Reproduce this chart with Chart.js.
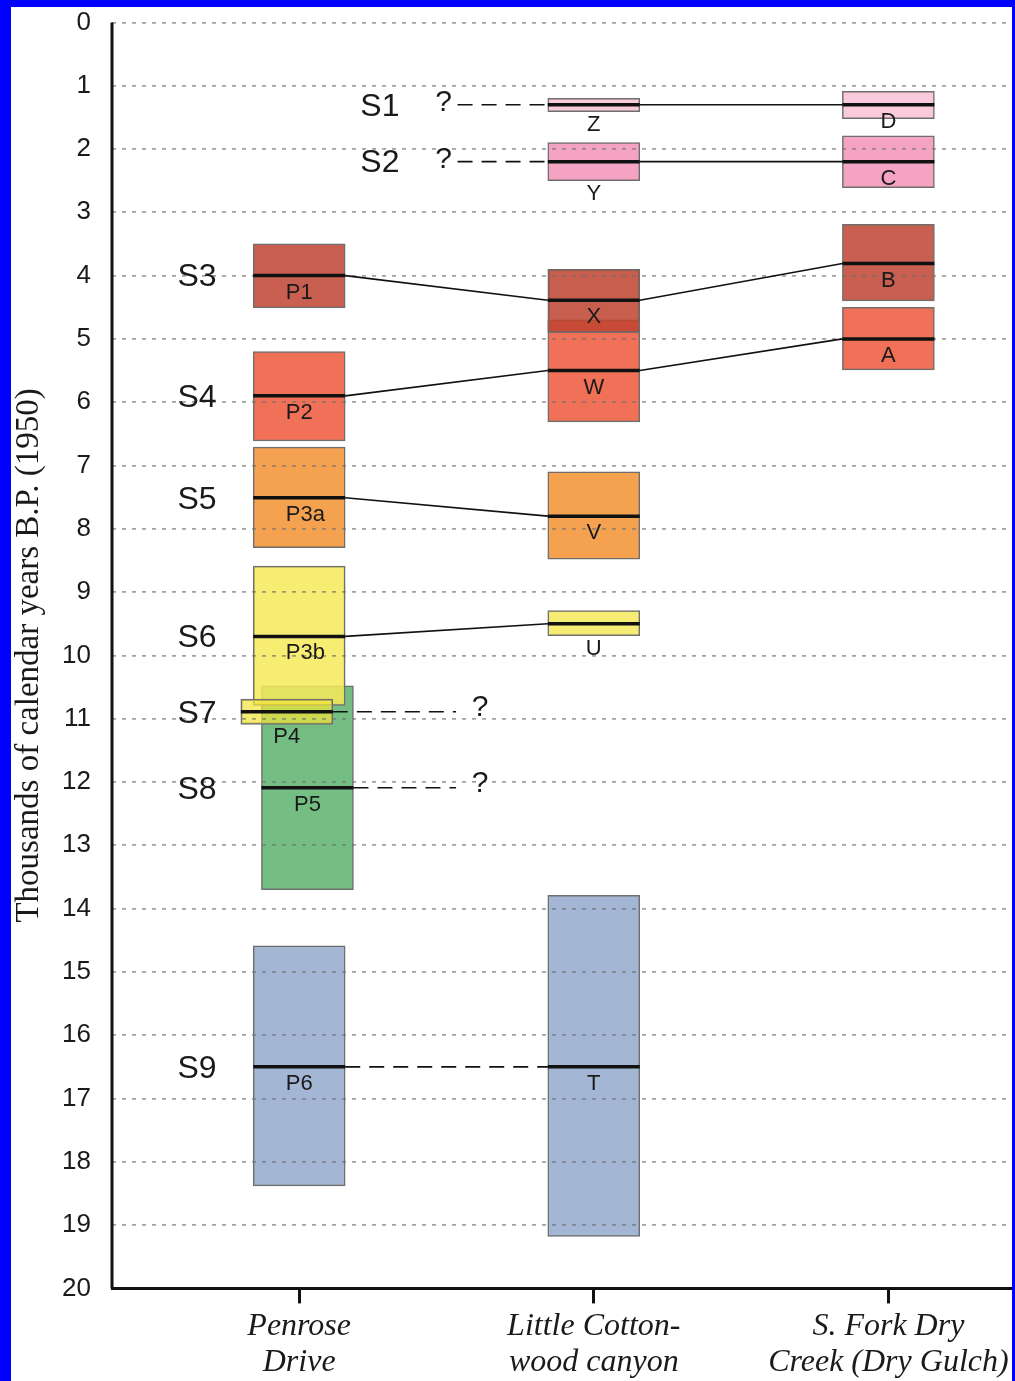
<!DOCTYPE html>
<html>
<head>
<meta charset="utf-8">
<script src="https://cdn.jsdelivr.net/npm/chart.js@4.4.1/dist/chart.umd.min.js"></script>
<style>
  html, body { margin: 0; padding: 0; background: #0000ff; }
  body { width: 1015px; height: 1381px; position: relative; overflow: hidden; }
  #frame { position: absolute; left: 11px; top: 7px; width: 1001px; height: 1374px; background: #fff; }
  canvas { display: block; }
</style>
</head>
<body>
<div id="frame"><canvas id="chart" width="1001" height="1374"></canvas></div>
<script>
// sites along the x axis (two-line labels)
const sites = [["Penrose", "Drive"], ["Little Cotton-", "wood canyon"], ["S. Fork Dry", "Creek (Dry Gulch)"]];

// dated units, in drawing order (later ones sit on top), ages in ka
const unitNames = ["P1", "P2", "P3a", "P5", "P3b", "P4", "P6", "Z", "Y", "W", "X", "V", "U", "T", "D", "C", "B", "A"];
const unitSite  = [0, 0, 0, 0, 0, 0, 0, 1, 1, 1, 1, 1, 1, 1, 2, 2, 2, 2];
const unitNudge = [0, 0, 0, 0.028, 0, -0.042, 0, 0, 0, 0, 0, 0, 0, 0, 0, 0, 0, 0];
const unitYoung = [3.50, 5.20, 6.71, 10.48, 8.59, 10.69, 14.59, 1.20, 1.90, 4.70, 3.90, 7.10, 9.29, 13.79, 1.09, 1.79, 3.19, 4.50];
const unitOld   = [4.51, 6.61, 8.30, 13.70, 10.79, 11.09, 18.38, 1.41, 2.50, 6.31, 4.90, 8.48, 9.69, 19.18, 1.52, 2.61, 4.40, 5.49];
const unitMid   = [4.00, 5.90, 7.51, 12.09, 9.70, 10.89, 16.50, 1.30, 2.20, 5.50, 4.39, 7.80, 9.50, 16.50, 1.30, 2.20, 3.81, 5.00];

// soils and the unit that defines each
const soilNames = ["S1", "S2", "S3", "S4", "S5", "S6", "S7", "S8", "S9"];
const soilUnit  = ["Z", "Y", "P1", "P2", "P3a", "P3b", "P4", "P5", "P6"];

// correlations between sites
const correlations = [["Z", "D"], ["Y", "C"], ["P1", "X"], ["X", "B"], ["P2", "W"], ["W", "A"], ["P3a", "V"], ["P3b", "U"]];
const tentative = [["P6", "T"]];
const uncertain = [["Z", -1], ["Y", -1], ["P4", 1], ["P5", 1]];

// styling / placement
const fills = {
  P1: "#c95f50", X: "rgba(191,68,49,0.86)", B: "#c95f50",
  P2: "#f07058", W: "#f07058", A: "#f07058",
  P3a: "#f5a250", V: "#f5a250",
  P3b: "rgba(247,234,90,0.85)", U: "#f7ec73", P4: "rgba(244,228,55,0.7)",
  P5: "#74be84",
  P6: "#a3b6d3", T: "#a3b6d3",
  Z: "#f9cadb", D: "#f9cadb",
  Y: "#f4a3c3", C: "#f4a3c3"
};
const labelUnder = ["Z", "Y", "U", "P4"];
const soilLabelX = [0.274, 0.274, -0.347, -0.347, -0.347, -0.347, -0.347, -0.347, -0.347];
const queryX = { left: 0.49, right: 0.614 };
const ink = "#1a1a1a";

const overlay = {
  id: "overlay",
  afterDraw(chart) {
    const { ctx, chartArea } = chart;
    const xs = chart.scales.x;
    const ys = chart.scales.y;
    const bars = chart.getDatasetMeta(0).data;

    const box = name => {
      const i = unitNames.indexOf(name);
      const b = bars[i];
      return {
        left: b.x - b.width / 2,
        right: b.x + b.width / 2,
        cx: b.x,
        mid: ys.getPixelForValue(unitMid[i]),
        bottom: ys.getPixelForValue(unitOld[i])
      };
    };
    const seg = (x1, y1, x2, y2, dash) => {
      ctx.setLineDash(dash);
      ctx.beginPath();
      ctx.moveTo(x1, y1);
      ctx.lineTo(x2, y2);
      ctx.stroke();
    };

    ctx.save();
    ctx.strokeStyle = "#111";

    // vertical axis line
    ctx.lineWidth = 3;
    seg(chartArea.left, chartArea.top, chartArea.left, chartArea.bottom, []);

    ctx.lineWidth = 1.6;
    correlations.forEach(([a, b]) => {
      const A = box(a), B = box(b);
      seg(A.right, A.mid, B.left, B.mid, []);
    });
    tentative.forEach(([a, b]) => {
      const A = box(a), B = box(b);
      seg(A.right, A.mid, B.left, B.mid, [15, 9]);
    });

    ctx.font = "30px 'Liberation Sans'";
    ctx.fillStyle = ink;
    ctx.textAlign = "center";
    ctx.textBaseline = "middle";
    uncertain.forEach(([n, side]) => {
      const B = box(n);
      if (side < 0) {
        const qx = xs.getPixelForValue(queryX.left);
        seg(qx + 14, B.mid, B.left, B.mid, [15, 9]);
        ctx.fillText("?", qx, B.mid - 2);
      } else {
        const qx = xs.getPixelForValue(queryX.right);
        seg(B.right, B.mid, qx - 24, B.mid, [15, 9]);
        ctx.fillText("?", qx, B.mid - 4);
      }
    });

    // median lines
    ctx.lineWidth = 3.5;
    unitNames.forEach(n => {
      const B = box(n);
      seg(B.left, B.mid, B.right, B.mid, []);
    });

    // unit labels
    ctx.font = "22px 'Liberation Sans'";
    ctx.textAlign = "left";
    unitNames.forEach(n => {
      const B = box(n);
      const ty = labelUnder.includes(n) ? B.bottom + 13 : B.mid + 17;
      const tx = B.cx - ctx.measureText(n.slice(0, 2)).width / 2;
      ctx.fillText(n, tx, ty);
    });

    // soil names
    ctx.font = "32px 'Liberation Sans'";
    ctx.textAlign = "center";
    soilNames.forEach((s, i) => {
      const B = box(soilUnit[i]);
      ctx.fillText(s, xs.getPixelForValue(soilLabelX[i]), B.mid + 2);
    });

    ctx.restore();
  }
};

new Chart(document.getElementById("chart").getContext("2d"), {
  type: "bar",
  data: {
    datasets: [{
      data: unitNames.map((n, i) => ({ x: unitSite[i] + unitNudge[i], y: [unitYoung[i], unitOld[i]] })),
      backgroundColor: unitNames.map(n => fills[n]),
      borderColor: "#6e6e6e",
      borderWidth: 1.5,
      borderSkipped: false,
      barThickness: 92
    }]
  },
  options: {
    responsive: false,
    animation: false,
    layout: { autoPadding: false, padding: { top: 15.4, left: 0, right: 0, bottom: 0 } },
    plugins: { legend: { display: false }, tooltip: { enabled: false } },
    scales: {
      x: {
        type: "linear",
        min: -0.6354,
        max: 2.4196,
        offset: false,
        afterBuildTicks: s => { s.ticks = sites.map((_, i) => ({ value: i })); },
        afterFit: s => { s.height = 92.6; s.paddingLeft = 0; s.paddingRight = 0; },
        ticks: {
          callback: v => sites[v],
          color: ink,
          font: { family: "'Liberation Serif'", style: "italic", size: 32, lineHeight: 1.1 },
          padding: 6,
          maxRotation: 0,
          minRotation: 0,
          autoSkip: false
        },
        grid: { drawOnChartArea: false, drawTicks: true, tickLength: 15, tickWidth: 3, tickColor: "#111", offset: false },
        border: { color: "#111", width: 3 }
      },
      y: {
        min: 0,
        max: 20,
        reverse: true,
        afterFit: s => { s.width = 101; s.paddingTop = 0; s.paddingBottom = 0; },
        ticks: {
          stepSize: 1,
          color: ink,
          font: { family: "'Liberation Sans'", size: 26 },
          padding: 21
        },
        grid: {
          z: 1,
          drawTicks: false,
          lineWidth: 1.8,
          color: c => c.tick && c.tick.value === 20 ? "rgba(0,0,0,0)" : "rgba(110,110,110,0.65)"
        },
        border: { display: false, dash: [4, 6] },
        title: {
          display: true,
          text: "Thousands of calendar years B.P. (1950)",
          color: ink,
          font: { family: "'Liberation Serif'", size: 33, lineHeight: 1.1 },
          padding: 0
        }
      }
    }
  },
  plugins: [overlay]
});
</script>
</body>
</html>
